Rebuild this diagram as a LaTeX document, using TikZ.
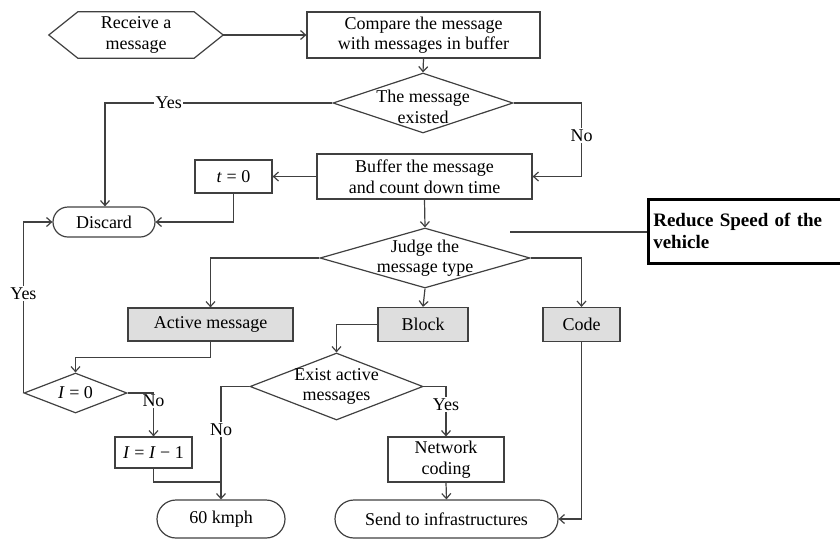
\documentclass[tikz,border=0pt]{standalone}
\usepackage{fontspec}
\setmainfont{Liberation Serif}
\usetikzlibrary{arrows.meta,shapes.geometric,shapes.misc}
\begin{document}
\begin{tikzpicture}[x=1pt,y=-1pt,
  every node/.style={font=\fontsize{18}{20.5}\selectfont, inner sep=0pt},
  ln/.style={draw=black!75, line width=1.2pt},
  arr/.style={ln, -{Straight Barb[length=5pt,width=9pt]}},
  box/.style={draw=black!75, line width=1.2pt, rectangle, align=center},
  gbox/.style={box, fill=black!13},
  pill/.style={draw=black!75, line width=1.2pt, rounded rectangle, align=center},
  dia/.style={draw=black!75, line width=1.2pt, diamond, inner sep=0pt},
  lbl/.style={fill=white, inner sep=1.5pt}
]
\useasboundingbox (0,0) rectangle (840,539);

% Receive a message (hexagon)
\node[align=center, minimum width=116, minimum height=46] (recv) at (136,35) {Receive a\\message};
\draw[ln] (recv.north west) -- (recv.north east) -- ([xshift=29pt]recv.east) -- (recv.south east)
  -- (recv.south west) -- ([xshift=-29pt]recv.west) -- cycle;
\coordinate (recvR) at ([xshift=29pt]recv.east);

\node[box, minimum width=233, minimum height=46] (cmp) at (423.5,35) {Compare the message\\with messages in buffer};

\node[dia, minimum width=180, minimum height=60,
  label={[align=center, yshift=-4pt]center:The message\\existed}] (ex) at (423,103) {};

\node[box, minimum width=215, minimum height=45] (buf) at (424.5,176.5) {Buffer the message\\and count down time};

\node[box, minimum width=77, minimum height=33] (t0) at (233.5,176.5) {\textit{t} = 0};

\node[pill, minimum width=102, minimum height=30] (disc) at (104,222) {Discard};

\node[dia, minimum width=210, minimum height=60,
  label={[align=center]center:Judge the\\message type}] (judge) at (425,258) {};

\node[gbox, minimum width=165, minimum height=33] (act) at (210.5,324.5) {Active message};
\node[gbox, minimum width=90, minimum height=34] (blk) at (423,324.5) {Block};
\node[gbox, minimum width=77, minimum height=34] (code) at (581.5,324.5) {Code};

\node[dia, minimum width=103, minimum height=40,
  label={center:\textit{I} = 0}] (i0) at (75.5,393) {};

\node[box, minimum width=77, minimum height=31] (im1) at (153.5,452.5) {\textit{I} = \textit{I} − 1};

\node[dia, minimum width=173, minimum height=67,
  label={[align=center]center:Exist active\\messages}] (eam) at (336.5,386.5) {};

\node[box, minimum width=116, minimum height=45] (net) at (446,459.5) {Network\\coding};

\node[pill, minimum width=128, minimum height=38] (kmph) at (221,519) {60 kmph};
\node[pill, minimum width=223, minimum height=38] (send) at (446.5,519) {Send to infrastructures};

\node[draw=black, line width=2.6pt, rectangle, anchor=north west, minimum width=194, minimum height=64,
  text width=185, align=left, inner xsep=5pt,
  font=\fontsize{19}{22}\selectfont\bfseries] (red) at (647,198) {Reduce Speed of the\\vehicle};
\coordinate (redL) at (510,232);

\coordinate (join) at (221,482);

% connectors
\draw[arr] (recvR) -- (cmp.west);
\draw[arr] (cmp.south) -- (ex.north);
\draw[arr] (ex.west) -| node[lbl, pos=0.36] {Yes} ([xshift=1pt]disc.north);
\draw[arr] (ex.east) -- ++(68,0) |- node[lbl, pos=0.22] {No} (buf.east);
\draw[arr] (buf.west) -- (t0.east);
\draw[arr] (t0.south) |- (disc.east);
\draw[arr] (buf.south) -- (judge.north);
\draw[arr] (judge.west) -| (act.north);
\draw[arr] (judge.east) -| (code.north);
\draw[arr] (judge.south) -- (blk.north);
\draw[arr] (blk.west) -| (eam.north);
\draw[arr] (act.south) -- ++(0,16) -| (i0.north);
\draw[arr] (i0.west) |- node[lbl, pos=0.29] {Yes} (disc.west);
\draw[arr] (i0.east) -| node[lbl, pos=0.5, yshift=-8pt] {No} (im1.north);
\draw[ln] (im1.south) |- (join);
\draw[arr] (eam.west) -| node[lbl, pos=0.69] {No} (kmph.north);
\draw[arr] (eam.east) -| node[lbl, pos=0.68] {Yes} (net.north);
\draw[arr] (net.south) -- (send.north);
\draw[arr] (code.south) |- (send.east);
\draw[ln] (redL) -- (red.west |- redL);
\end{tikzpicture}
\end{document}
